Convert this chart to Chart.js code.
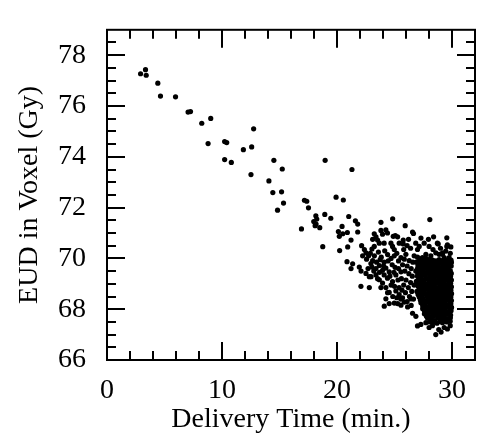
<!DOCTYPE html>
<html>
<head>
<meta charset="utf-8">
<script src="https://cdn.jsdelivr.net/npm/chart.js@4.4.0/dist/chart.umd.min.js"></script>
<style>
  html, body { margin: 0; padding: 0; background: #fff; }
  #wrap { width: 479px; height: 434px; }
</style>
</head>
<body>
<div id="wrap"><canvas id="eudChart"></canvas></div>
<script>
const xTicks = [0, 10, 20, 30];
const yTicks = [66, 68, 70, 72, 74, 76, 78];
const xRange = [0, 32];
const yRange = [66, 79];

// [delivery time (min), EUD (Gy)]
const earlyPoints = [
  [2.92,77.27],[3.35,77.43],[3.41,77.21],[4.42,76.9],[4.65,76.39],[5.96,76.36],
  [7.05,75.76],[7.26,75.78],[8.24,75.32],[9.02,75.51],[12.75,75.1],[8.79,74.52],
  [10.23,74.6],[10.41,74.56],[11.86,74.28],[12.58,74.39],[10.23,73.89],[10.81,73.78],
  [12.52,73.3],[14.08,73.05],[14.51,73.86],[15.24,73.52],[14.42,72.59],[15.18,72.62],
  [15.35,72.18],[14.83,71.9]
];

const midPoints = [
  [18.97,73.86],[21.3,73.5],[17.17,72.29],[17.37,72.25],[17.52,71.99],[19.92,72.41],
  [20.55,72.3],[18.16,71.68],[18.24,71.55],[17.98,71.45],[18.18,71.35],[18.1,71.29],
  [18.5,71.21],[18.94,71.73],[19.46,71.58],[21.02,71.65],[16.91,71.16],[20.44,71.26],
  [20.12,71.06],[20.5,70.97],[20.9,71.02],[20.2,70.87],[18.76,70.46],[20.23,70.31],
  [20.93,70.45],[20.87,69.87],[21.6,71.48],[21.8,71.35],[21.8,71.04],[21.22,70.72],
  [21.36,69.79],[21.94,69.66],[22.09,69.5],[21.22,69.6],[22.08,68.9]
];

const transitionPoints = [
  [22.14,70.5],[22.38,70.35],[22.52,70.22],[22.75,70.1],[22.23,70.1],[22.57,69.97],
  [23.82,71.42],[24.84,71.56],[25.93,71.29],
  [23.24,70.97],[23.39,70.85],[23.1,70.75],[23.53,70.72],[23.82,71.1],[23.96,70.95],
  [23.68,70.6],[23.24,70.47],[23.04,70.37],[24.1,70.6],[24.25,71.12],[24.39,71.0],
  [24.89,70.87],[25.07,70.9],[25.27,70.85],[24.69,70.6],[24.83,70.47],[24.98,70.35],
  [25.41,70.6],[25.76,70.72],[26.22,70.75],[26.57,71.04],[25.76,70.57],
  [23.1,69.91],[23.44,69.85],[23.68,69.72],[23.39,69.6],[23.04,69.66],[23.96,69.53],
  [24.25,69.62],[24.54,69.47],[22.52,69.41],[22.96,69.28],[23.39,69.35],[23.68,69.16],
  [23.96,69.03],[24.39,69.22],[24.83,69.09],[25.12,69.35],[25.56,69.47],
  [22.81,68.85],[22.81,69.28],[23.53,69.2],[24.25,68.85],[23.82,68.85],
  [24.98,70.1],[25.56,70.03],[25.85,69.97],[25.99,70.16],[26.28,69.91],[26.71,70.1],
  [24.54,68.66],[25.12,68.72],[25.41,68.57],[24.25,68.41],[24.11,68.12],[24.54,68.22],
  [24.98,68.24],[25.27,68.22],[25.56,68.16],[25.85,68.28],[26.14,68.09],[26.43,68.41],
  [26.57,67.84],[26.86,67.72],
  [25.7,69.75],[26.1,69.7],[26.45,69.6],[26.6,69.85],[25.9,69.5],[26.25,69.4],
  [26.55,69.3],[25.6,69.2],[26.0,69.15],[26.4,69.05],[26.7,68.95],[25.8,68.95],
  [26.2,68.85],[26.5,68.7],[25.95,68.65],[26.3,68.5],[26.65,68.4],[25.7,68.45],
  [26.1,68.3],[26.45,68.15],
  [22.9,70.2],[23.25,70.1],[23.6,70.25],[23.85,70.05],[24.15,70.3],[24.4,70.15],
  [24.7,70.0],[25.2,70.2],[25.35,69.9],[24.1,69.85],[24.45,69.9],[24.8,69.75],
  [25.05,69.65],[25.35,69.6],[24.6,69.3],[24.95,69.45],[25.3,69.15],[24.1,69.35],
  [23.2,69.5],[22.7,69.6],[25.0,68.9],[25.4,68.85],[24.7,68.95],[25.65,68.75],
  [25.2,68.45],[24.85,68.5],[25.55,68.4],[24.4,68.65],[23.7,69.45],[24.05,69.7],
  [22.95,69.8],[23.75,69.95],[25.8,70.35],[26.4,70.4],[26.1,70.5],[26.85,70.6]
];

const clusterPoints = [
  // upper fringe
  [28.07,71.53],[26.65,70.98],[28.8,70.57],[29.55,70.81],[27.15,70.47],[27.0,70.35],
  [27.58,70.6],[28.01,70.47],[28.73,70.6],[29.6,70.53],[27.43,70.03],[27.73,70.16],
  [28.16,70.1],[28.59,70.22],[29.17,70.16],[29.46,70.29],[29.85,70.2],[29.9,70.45],
  [28.35,70.35],[29.0,70.4],[29.55,70.47],[29.17,70.22],[28.88,70.16],[29.32,70.03],
  [29.75,70.03],[27.3,70.8],[27.95,70.75],[28.4,70.85],
  // left part of the core
  [27.0,70.05],[27.35,69.98],[27.7,70.02],[28.05,69.96],
  [26.9,69.85],[27.2,69.8],[27.55,69.88],[27.9,69.83],[28.15,69.75],
  [27.05,69.68],[27.4,69.62],[27.75,69.7],[28.1,69.6],
  [26.85,69.5],[27.15,69.45],[27.5,69.52],[27.85,69.42],[28.18,69.48],
  [27.0,69.3],[27.3,69.25],[27.65,69.32],[28.0,69.22],
  [26.9,69.1],[27.2,69.05],[27.55,69.12],[27.88,69.02],[28.2,69.08],
  [27.05,68.9],[27.4,68.85],[27.72,68.92],[28.05,68.82],
  [26.95,68.7],[27.28,68.65],[27.6,68.72],[27.95,68.62],[28.22,68.7],
  [27.15,68.48],[27.48,68.42],[27.8,68.5],[28.12,68.4],
  [27.3,68.25],[27.62,68.2],[27.95,68.28],[28.25,68.18],
  [27.45,68.02],[27.8,67.98],[28.1,68.05],
  [27.6,67.82],[27.95,67.78],[28.3,67.85],
  [27.87,67.65],[28.2,67.6],[28.5,67.55],
  [27.18,69.92],[27.52,69.95],[27.88,69.9],[28.2,69.88],
  [27.05,69.74],[27.38,69.75],[27.72,69.78],[28.02,69.7],
  [26.98,69.58],[27.25,69.55],[27.6,69.6],[27.95,69.55],[28.25,69.62],
  [27.02,69.4],[27.35,69.37],[27.7,69.42],[28.05,69.35],[28.28,69.3],
  [27.1,69.18],[27.42,69.15],[27.75,69.2],[28.1,69.15],
  [27.0,68.98],[27.25,68.95],[27.58,69.0],[27.9,68.95],[28.25,68.95],
  [27.15,68.78],[27.5,68.75],[27.82,68.8],[28.15,68.78],
  [27.05,68.58],[27.38,68.55],[27.7,68.6],[28.05,68.55],[28.28,68.5],
  [27.25,68.36],[27.58,68.32],[27.9,68.38],[28.22,68.3],
  [27.45,68.14],[27.75,68.1],[28.05,68.15],[28.3,68.08],
  [27.62,67.92],[27.92,67.9],[28.22,67.95],
  [27.78,67.72],[28.08,67.7],[28.38,67.72],
  [28.05,67.5],[28.35,67.48],[28.7,67.45],
  // dense core against the 30 min limit
  [28.32,69.93],[28.6,69.9],[28.88,69.95],[29.15,69.91],[29.42,69.94],[29.68,69.9],[29.92,69.93],
  [28.46,69.8],[28.74,69.78],[29.02,69.82],[29.3,69.79],[29.56,69.81],[29.82,69.77],[29.95,69.84],
  [28.35,69.66],[28.62,69.68],[28.9,69.65],[29.18,69.69],[29.45,69.66],[29.72,69.67],[29.93,69.7],
  [28.48,69.54],[28.76,69.52],[29.04,69.55],[29.32,69.53],[29.6,69.56],[29.85,69.52],
  [28.34,69.41],[28.63,69.39],[28.91,69.43],[29.19,69.4],[29.47,69.42],[29.74,69.38],[29.94,69.41],
  [28.5,69.27],[28.78,69.29],[29.06,69.26],[29.34,69.28],[29.62,69.25],[29.87,69.29],
  [28.36,69.14],[28.64,69.12],[28.92,69.15],[29.2,69.13],[29.48,69.16],[29.75,69.12],[29.95,69.15],
  [28.5,69.0],[28.78,69.02],[29.06,68.99],[29.34,69.01],[29.62,68.98],[29.88,69.02],
  [28.38,68.87],[28.66,68.85],[28.94,68.88],[29.22,68.86],[29.5,68.89],[29.77,68.85],[29.95,68.88],
  [28.52,68.73],[28.8,68.75],[29.08,68.72],[29.36,68.74],[29.64,68.71],[29.9,68.75],
  [28.4,68.6],[28.68,68.58],[28.96,68.61],[29.24,68.59],[29.52,68.62],[29.78,68.58],[29.96,68.61],
  [28.54,68.46],[28.82,68.48],[29.1,68.45],[29.38,68.47],[29.66,68.44],[29.9,68.48],
  [28.42,68.33],[28.7,68.31],[28.98,68.34],[29.26,68.32],[29.54,68.35],[29.8,68.31],[29.95,68.34],
  [28.56,68.19],[28.84,68.21],[29.12,68.18],[29.4,68.2],[29.68,68.17],[29.9,68.21],
  [28.46,68.06],[28.74,68.04],[29.02,68.07],[29.3,68.05],[29.58,68.08],[29.82,68.04],[29.96,68.07],
  [28.62,67.92],[28.9,67.94],[29.18,67.91],[29.46,67.93],[29.72,67.9],[29.92,67.94],
  [28.55,67.79],[28.82,67.77],[29.1,67.8],[29.38,67.78],[29.65,67.81],[29.88,67.77],
  [28.75,67.66],[29.04,67.64],[29.32,67.67],[29.6,67.63],[29.86,67.66],
  [28.95,67.52],[29.26,67.54],[29.55,67.5],[29.84,67.53],
  // lower tail
  [27.0,67.34],[27.29,67.4],[27.73,67.47],[28.01,67.28],[28.59,67.0],[29.32,67.28],
  [29.6,67.22],[29.17,67.47],[28.3,67.35],[28.85,67.2],[29.85,67.35],[29.05,67.1]
];

const allPoints = [...earlyPoints, ...midPoints, ...transitionPoints, ...clusterPoints]
  .map(([x, y]) => ({ x, y }));

const serif = 'Liberation Serif';

// box frame with inward ticks on all four sides
const frameTicks = {
  id: 'frameTicks',
  afterDatasetsDraw(chart) {
    const { ctx, chartArea: a, scales: { x, y } } = chart;
    const major = 18, minor = 9;
    ctx.save();
    ctx.strokeStyle = '#000';
    ctx.lineWidth = 2;
    ctx.beginPath();
    for (let v = xRange[0] + 2; v < xRange[1]; v += 2) {
      const px = Math.round(x.getPixelForValue(v));
      const len = v % 10 === 0 ? major : minor;
      ctx.moveTo(px, a.bottom); ctx.lineTo(px, a.bottom - len);
      ctx.moveTo(px, a.top); ctx.lineTo(px, a.top + len);
    }
    for (let v = yRange[0] + 0.5; v < yRange[1]; v += 0.5) {
      const py = Math.round(y.getPixelForValue(v));
      const len = v % 2 === 0 ? major : minor;
      ctx.moveTo(a.left, py); ctx.lineTo(a.left + len, py);
      ctx.moveTo(a.right, py); ctx.lineTo(a.right - len, py);
    }
    ctx.stroke();
    ctx.strokeRect(a.left, a.top, a.right - a.left, a.bottom - a.top);
    ctx.restore();
  }
};

new Chart(document.getElementById('eudChart'), {
  type: 'scatter',
  data: {
    datasets: [{
      data: allPoints,
      pointRadius: 2.6,
      pointBackgroundColor: '#000',
      pointBorderWidth: 0
    }]
  },
  options: {
    responsive: true,
    maintainAspectRatio: false,
    animation: false,
    layout: { padding: { top: 14, right: 2, left: 0, bottom: 0 } },
    plugins: { legend: { display: false }, tooltip: { enabled: false } },
    scales: {
      x: {
        type: 'linear',
        min: xRange[0],
        max: xRange[1],
        grid: { display: false },
        border: { display: false },
        afterBuildTicks: s => { s.ticks = xTicks.map(v => ({ value: v })); },
        afterFit: s => { s.height = 74; },
        ticks: { color: '#000', padding: 6, maxRotation: 0, font: { family: serif, size: 28 } },
        title: {
          display: true,
          text: 'Delivery Time (min.)',
          color: '#000',
          padding: 0,
          font: { family: serif, size: 28, lineHeight: 1 }
        }
      },
      y: {
        type: 'linear',
        min: yRange[0],
        max: yRange[1],
        grid: { display: false },
        border: { display: false },
        afterBuildTicks: s => { s.ticks = yTicks.map(v => ({ value: v })); },
        afterFit: s => { s.width = 107; },
        ticks: { color: '#000', padding: 13, font: { family: serif, size: 28 } },
        title: {
          display: true,
          text: 'EUD in Voxel (Gy)',
          color: '#000',
          padding: { top: 16, bottom: 0 },
          font: { family: serif, size: 28, lineHeight: 1 }
        }
      }
    }
  },
  plugins: [frameTicks]
});
</script>
</body>
</html>
